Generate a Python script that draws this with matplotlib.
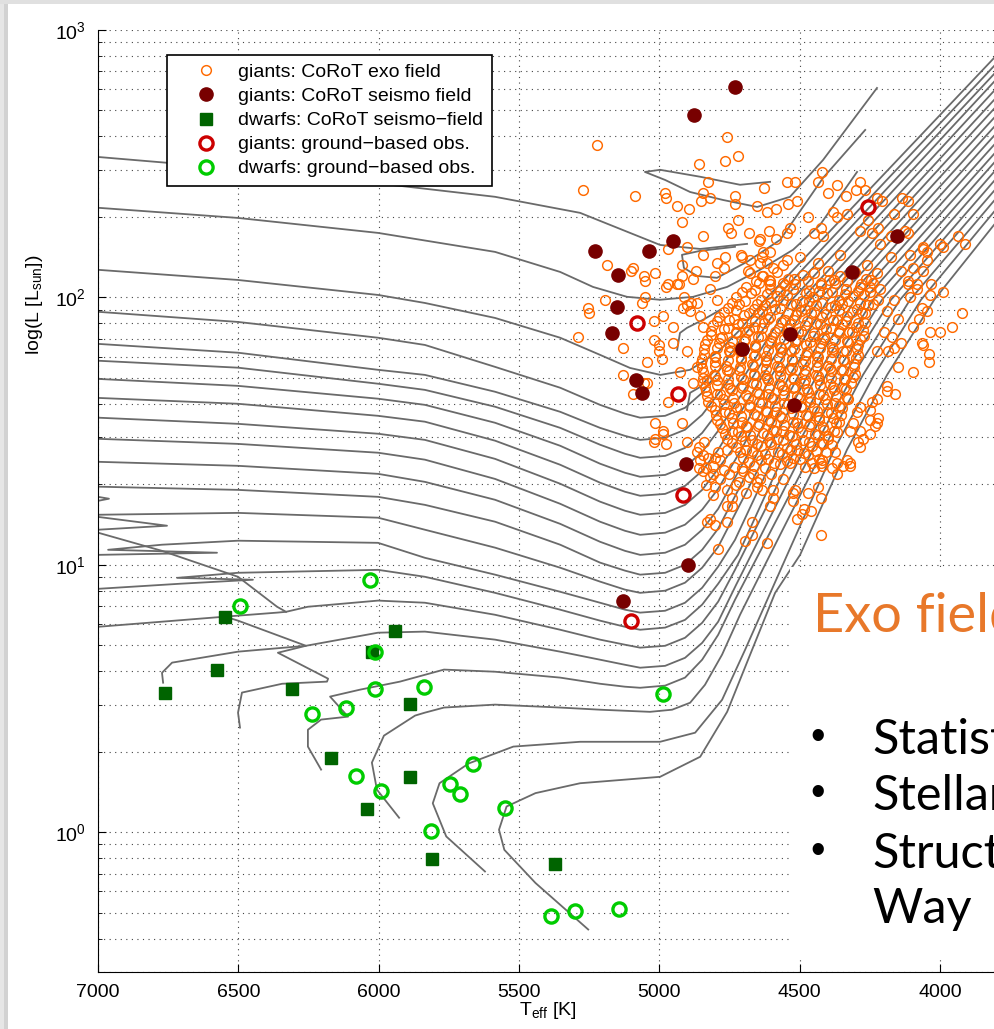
import matplotlib.pyplot as plt
from matplotlib.patches import Rectangle

plt.rcParams['font.family'] = ['Liberation Sans', 'DejaVu Sans']
plt.rcParams['mathtext.default'] = 'regular'

# ---- evolutionary tracks, points are (Teff [K], log10 L/Lsun) ----
tracks_upper = [
    [(7000, 2.103), (6501, 2.065), (6002, 2.009), (5835, 1.979), (5585, 1.923), (5353, 1.849), (5211, 1.785),
     (5104, 1.736), (4996, 1.710), (4890, 1.729), (4790, 1.796), (4712, 1.879), (4623, 1.991), (3807, 2.895)],
    [(7000, 1.946), (6501, 1.908), (6002, 1.849), (5835, 1.822), (5585, 1.740), (5353, 1.662), (5211, 1.598),
     (5122, 1.565), (5068, 1.550), (4979, 1.557), (4908, 1.587), (4847, 1.643), (4790, 1.721), (4705, 1.849),
     (4591, 1.991), (3807, 2.865)],
    [(7000, 1.826), (6501, 1.793), (6002, 1.729), (5835, 1.710), (5585, 1.647), (5353, 1.572), (5211, 1.512),
     (5122, 1.482), (5068, 1.467), (4979, 1.475), (4908, 1.505), (4847, 1.561), (4790, 1.639), (4726, 1.729),
     (4559, 1.991), (3807, 2.835)],
    [(7000, 1.763), (6501, 1.737), (6002, 1.677), (5835, 1.654), (5585, 1.591), (5353, 1.512), (5211, 1.449),
     (5122, 1.415), (5068, 1.400), (4979, 1.407), (4908, 1.437), (4847, 1.493), (4790, 1.572), (4694, 1.710),
     (4527, 1.991), (3807, 2.806)],
    [(7000, 1.695), (6501, 1.669), (6002, 1.621), (5835, 1.598), (5585, 1.531), (5353, 1.445), (5211, 1.378),
     (5122, 1.344), (5068, 1.329), (4979, 1.336), (4908, 1.366), (4847, 1.422), (4790, 1.501), (4662, 1.710),
     (4494, 1.991), (3807, 2.772)],
    [(7000, 1.624), (6501, 1.602), (6002, 1.557), (5835, 1.535), (5585, 1.464), (5353, 1.374), (5211, 1.307),
     (5122, 1.273), (5068, 1.258), (4979, 1.265), (4908, 1.295), (4847, 1.351), (4790, 1.430), (4630, 1.710),
     (4462, 1.991), (3807, 2.738)],
    [(7000, 1.550), (6501, 1.527), (6002, 1.490), (5835, 1.467), (5585, 1.396), (5353, 1.303), (5211, 1.236),
     (5122, 1.202), (5068, 1.187), (4979, 1.194), (4908, 1.224), (4847, 1.280), (4790, 1.359), (4740, 1.430),
     (4598, 1.710), (4430, 1.991), (3807, 2.705)],
    [(7000, 1.471), (6501, 1.452), (6002, 1.419), (5835, 1.393), (5585, 1.321), (5353, 1.228), (5211, 1.161),
     (5122, 1.127), (5068, 1.112), (4979, 1.120), (4908, 1.150), (4847, 1.206), (4790, 1.284), (4708, 1.430),
     (4566, 1.710), (4398, 1.991), (3807, 2.671)],
    [(7000, 1.385), (6501, 1.370), (6002, 1.340), (5835, 1.310), (5585, 1.243), (5353, 1.153), (5211, 1.086),
     (5122, 1.052), (5068, 1.037), (4979, 1.045), (4908, 1.075), (4847, 1.131), (4790, 1.209), (4676, 1.430),
     (4534, 1.710), (4366, 1.991), (3807, 2.637)],
]

# tracks whose main-sequence hook shows at the hot edge
tracks_hook = [
    [(7050, 1.236), (7000, 1.239), (6961, 1.247), (7000, 1.254), (7040, 1.265), (7000, 1.292), (6501, 1.280),
     (6002, 1.254), (5835, 1.224), (5585, 1.161), (5353, 1.075), (5211, 1.008), (5122, 0.978), (5068, 0.963),
     (4979, 0.970), (4908, 1.000), (4847, 1.056), (4790, 1.135), (4644, 1.430), (4502, 1.710), (4334, 1.991),
     (3807, 2.604)],
    [(7050, 1.127), (7000, 1.131), (6754, 1.146), (7000, 1.179), (7040, 1.183), (7000, 1.187), (6501, 1.194),
     (6002, 1.176), (5835, 1.131), (5585, 1.064), (5353, 0.989), (5211, 0.937), (5122, 0.907), (5068, 0.895),
     (4979, 0.903), (4908, 0.933), (4847, 0.989), (4790, 1.067), (4612, 1.430), (4470, 1.710), (4302, 1.991),
     (3807, 2.570)],
    [(7050, 1.034), (7000, 1.037), (6576, 1.045), (6964, 1.056), (6772, 1.075), (6501, 1.090), (6002, 1.082),
     (5835, 1.026), (5585, 0.963), (5353, 0.899), (5211, 0.858), (5122, 0.832), (5068, 0.821), (4979, 0.828),
     (4908, 0.858), (4847, 0.914), (4790, 0.993), (4730, 1.093), (4580, 1.430), (4437, 1.710), (4270, 1.991),
     (3807, 2.536)],
    [(7050, 0.907), (7000, 0.910), (6708, 0.929), (6448, 0.944), (6718, 0.951), (6501, 0.970), (6002, 0.981),
     (5835, 0.955), (5585, 0.895), (5353, 0.832), (5211, 0.791), (5122, 0.768), (5068, 0.757), (4979, 0.765),
     (4908, 0.794), (4847, 0.851), (4790, 0.929), (4719, 1.037), (4548, 1.430), (4405, 1.710), (4238, 1.991),
     (3807, 2.503)],
    [(7000, 0.768), (6547, 0.806), (6362, 0.821), (6330, 0.824), (6252, 0.843), (6002, 0.866), (5835, 0.858),
     (5585, 0.813), (5353, 0.757), (5211, 0.720), (5122, 0.701), (5068, 0.690), (4979, 0.697), (4908, 0.727),
     (4847, 0.783), (4790, 0.862), (4730, 0.981), (4516, 1.430), (4373, 1.710), (4206, 1.991), (3807, 2.469)],
]

# low-mass tracks starting on the main sequence inside the frame
tracks_low = [
    [(6768, 0.559), (6772, 0.596), (6736, 0.634), (6501, 0.675), (6259, 0.697), (6002, 0.746), (5835, 0.750),
     (5585, 0.720), (5353, 0.675), (5211, 0.645), (5122, 0.626), (5068, 0.615), (4979, 0.622), (4908, 0.652),
     (4847, 0.708), (4790, 0.787), (4726, 0.925), (4484, 1.430), (4341, 1.710), (4174, 1.991), (3807, 2.435)],
    [(6205, 0.234), (6252, 0.320), (6252, 0.383), (6205, 0.421), (6109, 0.432), (6173, 0.507), (6066, 0.533),
     (5924, 0.563), (5767, 0.608), (5585, 0.600), (5353, 0.578), (5211, 0.555), (5122, 0.544), (5068, 0.540),
     (4979, 0.548), (4908, 0.578), (4847, 0.645), (4790, 0.738), (4730, 0.869), (4452, 1.430), (4309, 1.710),
     (4142, 1.991), (3807, 2.398)],
    [(5927, 0.054), (6006, 0.159), (6024, 0.260), (5981, 0.361), (5870, 0.436), (5835, 0.447), (5767, 0.466),
     (5585, 0.477), (5353, 0.466), (5211, 0.458), (5122, 0.454), (5033, 0.450), (4954, 0.458), (4890, 0.484),
     (4837, 0.551), (4776, 0.664), (4712, 0.813), (4623, 1.000), (4416, 1.430), (4274, 1.710), (4106, 1.991),
     (3807, 2.361)],
    [(5621, -0.147), (5759, -0.016), (5807, 0.108), (5783, 0.183), (5679, 0.257), (5520, 0.320), (5282, 0.338),
     (4997, 0.338), (4872, 0.372), (4776, 0.495), (4694, 0.682), (4544, 1.037), (4377, 1.430), (4234, 1.710),
     (4067, 1.991), (3807, 2.320)],
    [(5253, -0.364), (5441, -0.190), (5552, -0.066), (5571, 0.009), (5544, 0.096), (5441, 0.146), (5282, 0.183),
     (4997, 0.207), (4854, 0.282), (4758, 0.450), (4676, 0.664), (4587, 0.895), (4498, 1.037), (4331, 1.430),
     (4188, 1.710), (4020, 1.991), (3807, 2.271)],
]

# separate pieces: blue loops of the massive tracks and the hook excursions
track_pieces = [
    [(7000, 2.525), (6458, 2.477), (5924, 2.417), (5585, 2.376), (5282, 2.316), (5104, 2.241), (4997, 2.196),
     (4854, 2.181), (4687, 2.200)],
    [(4605, 2.432), (4712, 2.421), (4854, 2.451), (4997, 2.477), (5051, 2.469), (4979, 2.439), (4890, 2.394),
     (4772, 2.364), (4651, 2.338), (4534, 2.376), (4416, 2.514), (4224, 2.783)],
    [(4730, 2.189), (4854, 2.174), (4919, 2.159), (4912, 2.110), (4865, 2.080), (4794, 2.073), (4687, 2.133),
     (4569, 2.215), (4416, 2.447), (4266, 2.626)],
    [(7000, 2.335), (6501, 2.297), (6002, 2.241), (5585, 2.170), (5353, 2.095), (5236, 2.039), (5115, 2.002),
     (4997, 1.991), (4879, 2.002), (4758, 2.039), (4641, 2.103), (4523, 2.178), (4427, 2.271), (4295, 2.469)],
    [(4936, 1.804), (4926, 1.867), (4901, 1.886), (4844, 1.916), (4783, 1.953)],
    [(4901, 1.579), (4890, 1.643), (4854, 1.665), (4801, 1.729)],
    [(6330, 0.824), (6362, 0.843), (6501, 0.955), (6772, 1.052), (7000, 1.120)],
    [(6547, 0.806), (6501, 0.791), (6259, 0.697), (6359, 0.671), (6180, 0.574), (6184, 0.563), (6344, 0.555),
     (6487, 0.522), (6501, 0.447), (6494, 0.391)],
]

# ---- observed stars (Teff, log L) ----
exo_outer = [
    (5220, 2.57), (5270, 2.40), (5085, 2.38), (4980, 2.39), (4975, 2.37), (4935, 2.34), (4895, 2.33), (4920, 2.28),
    (4860, 2.50), (4825, 2.43), (4760, 2.60), (4765, 2.51), (4720, 2.53), (4730, 2.38), (4730, 2.35), (4845, 2.39),
    (4820, 2.37), (4850, 2.36), (4650, 2.34), (4625, 2.41), (4755, 2.26), (4745, 2.24), (4720, 2.29), (4680, 2.24),
    (4645, 2.21), (4615, 2.32), (4585, 2.33), (4610, 2.25), (4585, 2.22), (4765, 2.15), (4770, 2.11), (4795, 2.13),
    (4705, 2.15), (4870, 2.10), (4800, 2.08), (4920, 2.12), (4975, 2.04), (4930, 2.05), (4970, 2.18), (4900, 2.19),
    (4845, 2.23), (5015, 2.09), (5055, 2.08), (5050, 2.06), (5095, 2.11), (5185, 2.12), (4675, 2.14), (4635, 2.15),
    (4630, 2.17), (4605, 2.17), (4685, 2.10), (4635, 2.08), (4605, 2.05), (4595, 2.11), (4545, 2.43), (4515, 2.43),
    (4420, 2.47), (4435, 2.43), (4365, 2.42), (4285, 2.43), (4265, 2.40), (4300, 2.40), (4540, 2.35), (4510, 2.36),
    (4470, 2.30), (4425, 2.26), (4400, 2.39), (4335, 2.38), (4380, 2.32), (4365, 2.30), (4330, 2.31), (4535, 2.26),
    (4545, 2.24), (4450, 2.24), (4415, 2.23), (4225, 2.37), (4205, 2.36), (4135, 2.37), (4115, 2.36), (4095, 2.31),
    (4165, 2.31), (3935, 2.23), (3910, 2.20), (3990, 2.19), (4060, 2.19), (4045, 2.17), (4115, 2.24), (4255, 2.29),
    (4220, 2.26), (4175, 2.23), (5100, 2.10), (5255, 1.96), (5250, 1.94), (5290, 1.85), (5195, 1.99), (5130, 1.81),
    (5130, 1.71), (5095, 1.64), (5045, 1.68), (4970, 1.61), (4985, 1.49), (5015, 1.47), (4975, 1.45), (4920, 1.53),
    (5020, 1.91), (5000, 1.82), (4990, 1.77), (4950, 1.89), (4970, 2.05), (4935, 2.05), (5050, 2.00), (5060, 1.98),
    (4845, 2.16), (4710, 2.16), (4640, 2.22), (4640, 2.13), (4675, 2.09), (4605, 2.06), (4820, 2.03), (4795, 1.99),
    (4855, 1.93), (4890, 1.95), (4900, 1.97), (4865, 1.98), (4845, 1.89), (4900, 1.80), (4865, 1.74), (4925, 1.72),
    (4880, 1.68), (4830, 1.69), (4840, 1.46), (4845, 1.41), (4800, 1.40), (4785, 1.39), (4860, 1.36), (4835, 1.36),
    (4810, 1.34), (4705, 1.36), (4665, 1.34), (4650, 1.31), (4635, 1.28), (4810, 1.26), (4740, 1.25), (4760, 1.22),
    (4605, 1.22), (4595, 1.25), (4525, 1.27), (4525, 1.24), (4470, 1.27), (4425, 1.25), (4420, 1.37), (4365, 1.38),
    (4330, 1.39), (4320, 1.37), (4365, 1.34), (4490, 1.19), (4460, 1.20), (4510, 1.17), (4485, 1.21), (4670, 1.16),
    (4670, 1.11), (4615, 1.08), (4425, 1.11), (4695, 1.09), (4790, 1.06), (4820, 1.17), (4800, 1.15), (4830, 1.16),
    (4285, 1.50), (4250, 1.49), (4275, 1.47), (4220, 1.55), (4230, 1.52), (4295, 1.57), (4190, 1.65), (4160, 1.64),
    (4095, 1.72), (4040, 1.79), (4040, 1.76), (4060, 1.82), (4000, 1.87), (3955, 1.89), (3920, 1.94), (3990, 2.02),
    (4035, 2.01), (4065, 1.96), (4105, 2.00), (4150, 1.92), (4170, 1.85), (4165, 1.81), (4225, 1.80), (4105, 2.16),
    (4060, 2.18), (4045, 2.14), (4095, 2.11), (4115, 2.06), (4080, 2.03), (4000, 2.20), (4215, 2.20), (4175, 2.15),
    (4285, 2.25), (4240, 2.24), (4125, 2.25), (4065, 1.83), (4150, 1.74), (4190, 1.67), (4225, 1.62), (4240, 1.61),
    (4250, 1.58), (4285, 1.59), (4250, 1.54), (4225, 1.53), (4290, 1.46), (4320, 1.50), (4320, 1.38), (4345, 1.37),
    (4375, 1.42), (4385, 1.36), (4425, 1.38), (4435, 1.29), (4515, 1.28), (4560, 1.32), (4595, 1.28), (4740, 1.22),
    (4760, 1.16), (4845, 1.35), (4810, 1.37), (4865, 1.42), (4860, 1.44), (4900, 1.46), (4985, 1.50), (5020, 1.46),
    (5015, 1.53), (5055, 1.68), (5045, 1.76), (5000, 1.80), (4950, 1.83), (5020, 1.84), (4985, 1.93), (4915, 1.96),
    (4885, 1.98), (4910, 2.00), (4920, 2.08), (4880, 2.07), (4615, 2.13), (4560, 2.12), (4545, 2.14), (4500, 2.15),
    (4435, 2.13), (4400, 2.10), (4355, 2.16), (4260, 2.12), (4225, 2.09), (4140, 2.10), (4115, 2.05), (4080, 2.05),
    (4060, 2.10), (4030, 2.05), (4045, 1.95), (4075, 1.92), (4035, 1.87), (4095, 1.89), (4140, 1.83), (4185, 1.80),
    (4200, 1.87), (4190, 1.95), (4165, 1.99), (4215, 2.03), (4250, 2.04), (4310, 1.53), (4284, 1.44),
    (4820, 1.33), (4785, 1.32), (4750, 1.34), (4715, 1.31), (4680, 1.33), (4640, 1.32), (4600, 1.34), (4800, 1.29),
    (4760, 1.28), (4725, 1.30), (4690, 1.27), (4650, 1.29), (4835, 1.30), (4770, 1.355), (4735, 1.365),
    (4700, 1.35), (4855, 1.39), (4825, 1.40), (4790, 1.42), (4760, 1.43),
]

exo_core = [
    (4630, 2.08), (4581, 2.095), (4541, 2.07), (4489, 2.085), (4450, 2.09), (4396, 2.065), (4355, 2.08),
    (4303, 2.095), (4262, 2.07),
    (4692, 2.04), (4644, 2.055), (4606, 2.03), (4553, 2.045), (4515, 2.05), (4466, 2.025), (4424, 2.045),
    (4375, 2.055), (4333, 2.03), (4283, 2.04), (4238, 2.055),
    (4725, 2.0), (4673, 2.015), (4636, 1.99), (4582, 2.005), (4545, 2.01), (4492, 1.985), (4453, 2.0),
    (4401, 2.015), (4361, 1.99), (4309, 2.005), (4271, 2.01), (4221, 1.99),
    (4754, 1.96), (4715, 1.975), (4662, 1.955), (4624, 1.97), (4570, 1.96), (4532, 1.975), (4480, 1.955),
    (4441, 1.97), (4388, 1.965), (4349, 1.975), (4296, 1.955), (4256, 1.97),
    (4786, 1.925), (4734, 1.92), (4697, 1.935), (4643, 1.94), (4605, 1.925), (4551, 1.915), (4513, 1.935),
    (4459, 1.94), (4421, 1.925), (4367, 1.915), (4330, 1.93), (4276, 1.94),
    (4808, 1.895), (4756, 1.885), (4718, 1.9), (4664, 1.89), (4626, 1.905), (4572, 1.885), (4534, 1.9),
    (4480, 1.895), (4442, 1.905), (4388, 1.885), (4350, 1.9), (4297, 1.89), (4265, 1.905),
    (4817, 1.86), (4778, 1.85), (4726, 1.865), (4688, 1.87), (4636, 1.855), (4598, 1.85), (4544, 1.865),
    (4506, 1.87), (4452, 1.855), (4414, 1.85), (4360, 1.865), (4322, 1.87), (4270, 1.855),
    (4838, 1.825), (4787, 1.83), (4749, 1.815), (4697, 1.835), (4659, 1.82), (4606, 1.83), (4568, 1.815),
    (4515, 1.835), (4477, 1.82), (4423, 1.83), (4385, 1.815), (4331, 1.835), (4292, 1.82),
    (4840, 1.79), (4801, 1.78), (4749, 1.795), (4711, 1.8), (4658, 1.785), (4620, 1.78), (4567, 1.795),
    (4529, 1.8), (4476, 1.785), (4438, 1.78), (4384, 1.795), (4346, 1.8), (4293, 1.785),
    (4851, 1.755), (4800, 1.76), (4761, 1.745), (4709, 1.765), (4671, 1.75), (4618, 1.76), (4580, 1.745),
    (4527, 1.765), (4489, 1.75), (4436, 1.76), (4398, 1.745), (4344, 1.765), (4305, 1.75),
    (4843, 1.72), (4804, 1.71), (4752, 1.725), (4714, 1.73), (4662, 1.715), (4623, 1.71), (4571, 1.725),
    (4533, 1.73), (4480, 1.715), (4442, 1.71), (4388, 1.725), (4351, 1.73), (4302, 1.715),
    (4845, 1.68), (4793, 1.69), (4755, 1.675), (4703, 1.695), (4665, 1.68), (4612, 1.69), (4574, 1.675),
    (4521, 1.695), (4483, 1.68), (4430, 1.69), (4392, 1.675), (4339, 1.695), (4315, 1.68),
    (4833, 1.65), (4795, 1.64), (4742, 1.655), (4704, 1.66), (4651, 1.645), (4613, 1.64), (4560, 1.655),
    (4522, 1.66), (4469, 1.645), (4431, 1.64), (4378, 1.655), (4340, 1.66),
    (4825, 1.61), (4773, 1.62), (4735, 1.605), (4683, 1.625), (4645, 1.61), (4592, 1.62), (4554, 1.605),
    (4501, 1.625), (4463, 1.61), (4410, 1.62), (4372, 1.605), (4327, 1.62),
    (4803, 1.58), (4765, 1.57), (4712, 1.585), (4675, 1.59), (4621, 1.575), (4584, 1.57), (4530, 1.585),
    (4493, 1.59), (4439, 1.575), (4402, 1.57), (4349, 1.585),
    (4793, 1.54), (4742, 1.55), (4705, 1.535), (4652, 1.555), (4614, 1.54), (4561, 1.55), (4523, 1.535),
    (4470, 1.555), (4432, 1.54), (4379, 1.55), (4358, 1.535),
    (4777, 1.51), (4739, 1.5), (4686, 1.515), (4649, 1.52), (4595, 1.505), (4558, 1.5), (4504, 1.515),
    (4467, 1.52), (4413, 1.505), (4376, 1.5),
    (4758, 1.47), (4707, 1.48), (4670, 1.465), (4617, 1.485), (4579, 1.47), (4526, 1.48), (4488, 1.465),
    (4435, 1.485), (4397, 1.47),
    (4727, 1.44), (4690, 1.43), (4637, 1.445), (4600, 1.45), (4546, 1.435), (4509, 1.43), (4455, 1.445),
    (4418, 1.45),
    (4703, 1.4), (4651, 1.41), (4614, 1.395), (4561, 1.415), (4523, 1.4), (4470, 1.41), (4432, 1.395),
    (4662, 1.37), (4624, 1.36), (4571, 1.375), (4534, 1.38), (4480, 1.365), (4447, 1.36),
]

exo_core_fill = [
    (4655, 2.06), (4610, 2.065), (4560, 2.055), (4520, 2.068), (4470, 2.06), (4425, 2.052), (4378, 2.066),
    (4330, 2.06), (4282, 2.05), (4245, 2.064),
    (4705, 2.02), (4660, 2.026), (4615, 2.014), (4568, 2.023), (4522, 2.03), (4478, 2.017), (4432, 2.025),
    (4384, 2.02), (4338, 2.012), (4292, 2.024), (4248, 2.02),
    (4740, 1.98), (4695, 1.987), (4650, 1.975), (4603, 1.984), (4558, 1.99), (4512, 1.977), (4466, 1.985),
    (4420, 1.98), (4374, 1.972), (4328, 1.986), (4283, 1.98), (4238, 1.974),
    (4770, 1.945), (4726, 1.952), (4680, 1.94), (4634, 1.948), (4588, 1.955), (4542, 1.942), (4496, 1.95),
    (4450, 1.945), (4404, 1.937), (4358, 1.951), (4312, 1.945), (4268, 1.94),
    (4795, 1.91), (4750, 1.917), (4705, 1.905), (4658, 1.913), (4612, 1.92), (4566, 1.907), (4520, 1.915),
    (4474, 1.91), (4428, 1.902), (4382, 1.916), (4336, 1.91), (4290, 1.904),
    (4815, 1.875), (4770, 1.882), (4725, 1.87), (4680, 1.878), (4634, 1.885), (4588, 1.872), (4542, 1.88),
    (4496, 1.875), (4450, 1.867), (4404, 1.881), (4358, 1.875), (4312, 1.869), (4275, 1.878),
    (4830, 1.84), (4785, 1.847), (4740, 1.835), (4694, 1.843), (4648, 1.85), (4602, 1.837), (4556, 1.845),
    (4510, 1.84), (4464, 1.832), (4418, 1.846), (4372, 1.84), (4326, 1.834), (4285, 1.843),
    (4840, 1.805), (4795, 1.812), (4750, 1.8), (4704, 1.808), (4658, 1.815), (4612, 1.802), (4566, 1.81),
    (4520, 1.805), (4474, 1.797), (4428, 1.811), (4382, 1.805), (4336, 1.799), (4295, 1.808),
    (4846, 1.77), (4801, 1.777), (4756, 1.765), (4710, 1.773), (4664, 1.78), (4618, 1.767), (4572, 1.775),
    (4526, 1.77), (4480, 1.762), (4434, 1.776), (4388, 1.77), (4342, 1.764), (4300, 1.773),
    (4848, 1.735), (4803, 1.742), (4758, 1.73), (4712, 1.738), (4666, 1.745), (4620, 1.732), (4574, 1.74),
    (4528, 1.735), (4482, 1.727), (4436, 1.741), (4390, 1.735), (4344, 1.729), (4305, 1.738),
    (4845, 1.70), (4800, 1.707), (4755, 1.695), (4709, 1.703), (4663, 1.71), (4617, 1.697), (4571, 1.705),
    (4525, 1.70), (4479, 1.692), (4433, 1.706), (4387, 1.70), (4341, 1.694), (4308, 1.703),
    (4838, 1.665), (4793, 1.672), (4748, 1.66), (4702, 1.668), (4656, 1.675), (4610, 1.662), (4564, 1.67),
    (4518, 1.665), (4472, 1.657), (4426, 1.671), (4380, 1.665), (4335, 1.659),
    (4828, 1.63), (4783, 1.637), (4738, 1.625), (4692, 1.633), (4646, 1.64), (4600, 1.627), (4554, 1.635),
    (4508, 1.63), (4462, 1.622), (4416, 1.636), (4370, 1.63), (4330, 1.624),
    (4815, 1.595), (4770, 1.602), (4725, 1.59), (4679, 1.598), (4633, 1.605), (4587, 1.592), (4541, 1.60),
    (4495, 1.595), (4449, 1.587), (4403, 1.601), (4360, 1.595),
    (4798, 1.56), (4753, 1.567), (4708, 1.555), (4662, 1.563), (4616, 1.57), (4570, 1.557), (4524, 1.565),
    (4478, 1.56), (4432, 1.552), (4388, 1.566), (4352, 1.56),
    (4782, 1.525), (4737, 1.532), (4692, 1.52), (4646, 1.528), (4600, 1.535), (4554, 1.522), (4508, 1.53),
    (4462, 1.525), (4416, 1.517), (4370, 1.531),
    (4765, 1.49), (4720, 1.497), (4675, 1.485), (4629, 1.493), (4583, 1.50), (4537, 1.487), (4491, 1.495),
    (4445, 1.49), (4400, 1.482), (4365, 1.496),
    (4740, 1.455), (4695, 1.462), (4650, 1.45), (4604, 1.458), (4558, 1.465), (4512, 1.452), (4466, 1.46),
    (4420, 1.455), (4385, 1.447),
    (4712, 1.42), (4668, 1.427), (4623, 1.415), (4577, 1.423), (4531, 1.43), (4485, 1.417), (4440, 1.425),
    (4405, 1.42),
    (4680, 1.385), (4636, 1.392), (4590, 1.38), (4545, 1.388), (4500, 1.395), (4455, 1.382), (4420, 1.39),
]

seismo_giants = [
    (4730, 2.787), (4876, 2.682), (5229, 2.173), (5147, 2.084), (5036, 2.173), (4951, 2.211), (4152, 2.229),
    (4313, 2.095), (5150, 1.964), (5168, 1.867), (5083, 1.691), (5061, 1.642), (4705, 1.807), (4534, 1.863),
    (4519, 1.597), (4904, 1.377), (4897, 1.000), (5129, 0.866),
]
seismo_dwarfs = [
    (6761, 0.519), (6575, 0.607), (6547, 0.805), (6308, 0.534), (6168, 0.276), (6025, 0.674), (5942, 0.752),
    (5888, 0.479), (5888, 0.205), (6041, 0.086), (5810, -0.101), (5371, -0.119),
]
ground_giants = [(4256, 2.338), (5079, 1.905), (4933, 1.639), (4915, 1.262), (5101, 0.788)]
ground_dwarfs = [
    (6494, 0.845), (6031, 0.942), (6014, 0.674), (6014, 0.534), (5840, 0.544), (6236, 0.443), (6115, 0.466),
    (6082, 0.210), (5991, 0.155), (5746, 0.180), (5711, 0.143), (5665, 0.254), (5551, 0.090), (5815, 0.006),
    (5384, -0.312), (5301, -0.296), (5142, -0.287), (4986, 0.517),
]

legend_labels = ['giants: CoRoT exo field', 'giants: CoRoT seismo field', 'dwarfs: CoRoT seismo\u2212field',
                 'giants: ground\u2212based obs.', 'dwarfs: ground\u2212based obs.']
bullets = ['Statistics', 'Stellar', 'Structure', 'Way']


def split(pts):
    return [p[0] for p in pts], [10 ** p[1] for p in pts]


fig = plt.figure(figsize=(9.94, 10.29), dpi=100)
ax = fig.add_axes([0.0986, 0.0554, 0.9316, 0.9155])

for trk in tracks_upper + tracks_hook + tracks_low + track_pieces:
    t, l = split(trk)
    ax.plot(t, l, color='#6a6a6a', lw=1.3, zorder=2, solid_joinstyle='round')

t, l = split(exo_outer + exo_core + exo_core_fill)
ax.plot(t, l, ls='none', marker='o', ms=7, mfc='none', mec='#ff6a00', mew=1.05, zorder=3, label=legend_labels[0])
t, l = split(seismo_giants)
ax.plot(t, l, ls='none', marker='o', ms=9.5, mfc='#780000', mec='#780000', zorder=4, label=legend_labels[1])
t, l = split(seismo_dwarfs)
ax.plot(t, l, ls='none', marker='s', ms=8.5, mfc='#006400', mec='#006400', zorder=4, label=legend_labels[2])
t, l = split(ground_giants)
ax.plot(t, l, ls='none', marker='o', ms=9.5, mfc='none', mec='#cc0000', mew=2.4, zorder=5, label=legend_labels[3])
t, l = split(ground_dwarfs)
ax.plot(t, l, ls='none', marker='o', ms=9.5, mfc='none', mec='#00cc00', mew=2.4, zorder=5, label=legend_labels[4])

ax.set_yscale('log')
ax.set_xticks(range(7000, 3999, -500))
ax.set_ylim(0.3, 1000)
ax.set_xlim(7000, 3700)
ax.tick_params(which='major', direction='in', length=6, width=0.8, labelsize=14, pad=9)
ax.tick_params(which='minor', direction='in', length=3, width=0.6)
ax.tick_params(axis='x', which='minor', bottom=False)
ax.spines['top'].set_visible(False)
ax.spines['right'].set_visible(False)
for s in ('left', 'bottom'):
    ax.spines[s].set_linewidth(0.8)
ax.set_axisbelow(True)
ax.grid(True, which='major', axis='x', ls=(0, (1, 4)), color='#444444', lw=0.8)
ax.grid(True, which='both', axis='y', ls=(0, (1, 4)), color='#444444', lw=0.8)

leg = ax.legend(loc='upper left', bbox_to_anchor=(0.0745, 0.9735), borderaxespad=0, fontsize=14,
                fancybox=False, framealpha=1, edgecolor='black', numpoints=1, handlelength=3.1,
                handletextpad=0.1, borderpad=0.45, labelspacing=0.33)
leg.get_frame().set_linewidth(1.2)

fig.text(0.035, 0.7036, 'log(L [L$_{sun}$])', rotation=90, ha='center', va='center', fontsize=14)
fig.text(0.5513, 0.018, 'T$_{eff}$ [K]', ha='center', va='center', fontsize=14)

# slide overlay: white panel with the text, and the slide frame shadow
fig.add_artist(Rectangle((0.7948, 0.070), 0.25, 0.379, transform=fig.transFigure,
                         facecolor='white', edgecolor='none', zorder=5))
fig.text(0.818, 0.3858, 'Exo field', color='#e8782a', fontsize=39, family=['Lato', 'DejaVu Sans'],
         ha='left', va='baseline', zorder=6)
for i, (word, ybase) in enumerate(zip(bullets, [754, 810, 868, 923])):
    if i < 3:
        fig.text(818 / 994, 1 - (ybase - 16) / 1029, '\u2022', fontsize=30, ha='center', va='center', zorder=6)
    fig.text(872 / 994, 1 - ybase / 1029, word, fontsize=35, family=['Lato', 'DejaVu Sans'],
             ha='left', va='baseline', zorder=6)

fig.add_artist(Rectangle((0, 0), 4 / 994, 1, transform=fig.transFigure, facecolor='#e6e6e6',
                         edgecolor='none', zorder=7))
fig.add_artist(Rectangle((4 / 994, 0), 4 / 994, 1, transform=fig.transFigure, facecolor='#d2d2d2',
                         edgecolor='none', zorder=7))
fig.add_artist(Rectangle((0, 1 - 4 / 1029), 1, 4 / 1029, transform=fig.transFigure, facecolor='#e0e0e0',
                         edgecolor='none', zorder=7))

fig.savefig('out.png', dpi=100)
